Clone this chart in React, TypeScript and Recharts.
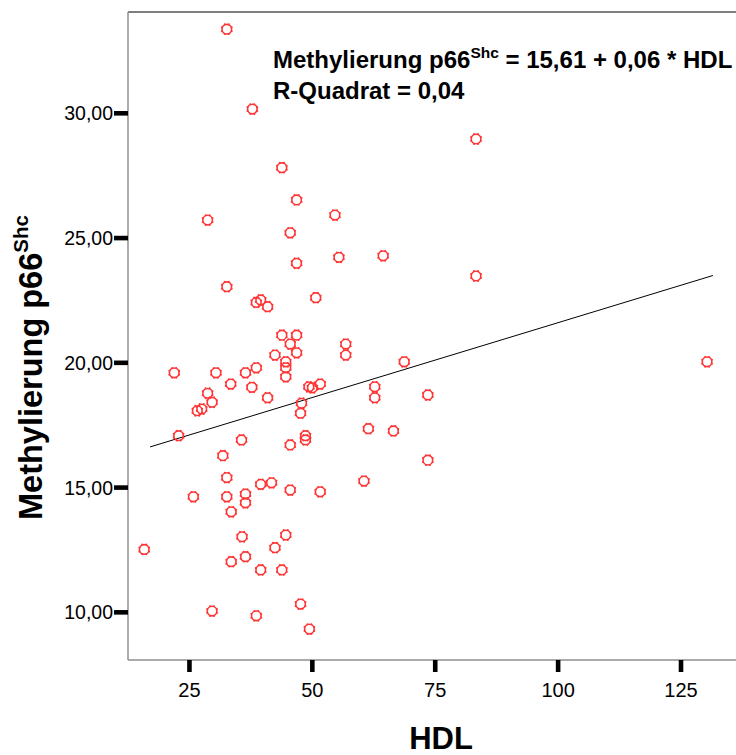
import React from 'react';
import { ScatterChart, Scatter, XAxis, YAxis, ReferenceLine, Customized } from 'recharts';

const hdl = [
  32.6, 37.8, 43.8, 46.8, 28.7, 54.6, 45.5, 46.8, 55.4, 32.6,
  38.6, 39.5, 40.9, 50.7, 43.8, 46.8, 45.5, 46.8, 42.4, 44.6,
  44.6, 44.6, 56.8, 56.8, 21.9, 30.4, 36.4, 38.6, 33.4, 37.7,
  49.3, 50.0, 51.6, 28.7, 29.6, 26.6, 27.5, 40.9, 47.8, 47.6,
  22.8, 35.6, 45.5, 48.6, 48.6, 61.4, 83.3, 64.4, 83.3, 68.7,
  62.7, 62.7, 73.5, 66.5, 130.3, 73.5, 60.5, 31.8, 32.6, 25.8,
  32.6, 36.4, 36.4, 33.5, 39.5, 41.7, 45.5, 51.6, 35.7, 44.6,
  42.4, 15.8, 33.5, 36.4, 39.5, 43.8, 29.6, 38.6, 47.6, 49.4,
];

const methylierung = [
  33.37, 30.17, 27.82, 26.53, 25.72, 25.92, 25.21, 23.99, 24.23, 23.05,
  22.42, 22.52, 22.25, 22.61, 21.11, 21.11, 20.75, 20.40, 20.31, 20.04,
  19.80, 19.44, 20.75, 20.31, 19.60, 19.60, 19.60, 19.80, 19.15, 19.02,
  19.04, 19.00, 19.15, 18.78, 18.42, 18.08, 18.15, 18.60, 18.38, 17.98,
  17.08, 16.91, 16.71, 17.08, 16.91, 17.36, 28.97, 24.29, 23.48, 20.04,
  19.04, 18.60, 18.71, 17.27, 20.04, 16.10, 15.26, 16.28, 15.40, 14.63,
  14.63, 14.74, 14.39, 14.03, 15.13, 15.19, 14.90, 14.83, 13.03, 13.10,
  12.59, 12.52, 12.03, 12.23, 11.70, 11.70, 10.05, 9.86, 10.33, 9.33,
];

const xTicks = [25, 50, 75, 100, 125];
const yTicks = [10, 15, 20, 25, 30];
const xDomain = [12.5, 137];
const yDomain = [8.09, 34.06];

const intercept = 15.61;
const slope = 0.06;
const fitRange = [17, 131.5];

const points = hdl.map((x, i) => ({ x, y: methylierung[i] }));
const fitLine = fitRange.map((x) => ({ x, y: intercept + slope * x }));

const FONT = '"Liberation Sans", Arial, Helvetica, sans-serif';
const RED = '#ff3535';

const Marker = (props: any) => {
  const { cx, cy } = props;
  if (cx == null || cy == null) return null;
  const bumps = [];
  for (let k = 0; k < 8; k++) {
    const a = (Math.PI * 2 * k) / 8 + Math.PI / 8;
    bumps.push(
      <circle
        key={k}
        cx={cx + Math.cos(a) * 5.3}
        cy={cy + Math.sin(a) * 5.3}
        r={1}
        fill={RED}
      />
    );
  }
  return (
    <g>
      <circle cx={cx} cy={cy} r={4.8} fill="none" stroke={RED} strokeWidth={1.6} />
      {bumps}
    </g>
  );
};

const fmtY = (v: number) => v.toFixed(2).replace('.', ',');

const Annotations = () => (
  <g fontFamily={FONT} fill="#000">
    <text x={273} y={68} fontSize={24} fontWeight="bold">
      <tspan>Methylierung p66</tspan>
      <tspan fontSize={15.5} dy={-10}>Shc</tspan>
      <tspan dy={10}> = 15,61 + 0,06 * HDL</tspan>
    </text>
    <text x={273} y={99} fontSize={24} fontWeight="bold">
      R-Quadrat = 0,04
    </text>
    <text x={441} y={749} fontSize={31} fontWeight="bold" textAnchor="middle">
      HDL
    </text>
    <text transform="rotate(-90)" x={-520} y={42} fontSize={32.5} fontWeight="bold">
      <tspan>Methylierung p66</tspan>
      <tspan fontSize={20.5} dy={-14}>Shc</tspan>
    </text>
  </g>
);

export default function App() {
  return (
    <div
      style={{
        position: 'absolute',
        left: 0,
        top: 0,
        width: 736,
        height: 755,
        overflow: 'hidden',
        background: '#fff',
      }}
    >
      <ScatterChart
        width={760}
        height={755}
        margin={{ top: 12, right: 20, bottom: 0, left: 0 }}
        style={{ fontFamily: FONT }}
      >
        <XAxis
          type="number"
          dataKey="x"
          domain={xDomain}
          ticks={xTicks}
          allowDataOverflow
          height={95}
          tickSize={12}
          tickMargin={11}
          axisLine={{ stroke: '#8f8f8f', strokeWidth: 1.5 }}
          tickLine={{ stroke: '#000', strokeWidth: 4.6 }}
          tick={{ fill: '#000', fontSize: 20, fontFamily: FONT }}
          interval={0}
        />
        <YAxis
          type="number"
          dataKey="y"
          domain={yDomain}
          ticks={yTicks}
          allowDataOverflow
          width={128}
          tickSize={14}
          tickMargin={1}
          tickFormatter={fmtY}
          axisLine={{ stroke: '#8f8f8f', strokeWidth: 1.5 }}
          tickLine={{ stroke: '#000', strokeWidth: 4.6 }}
          tick={{ fill: '#000', fontSize: 19.5, fontFamily: FONT }}
          interval={0}
        />
        <ReferenceLine y={yDomain[1]} stroke="#555" strokeWidth={1.5} ifOverflow="visible" />
        <ReferenceLine
          segment={[fitLine[0], fitLine[1]]}
          stroke="#000"
          strokeWidth={1}
          ifOverflow="visible"
        />
        <Scatter data={points} shape={Marker} isAnimationActive={false} />
        <Customized component={Annotations} />
      </ScatterChart>
    </div>
  );
}
